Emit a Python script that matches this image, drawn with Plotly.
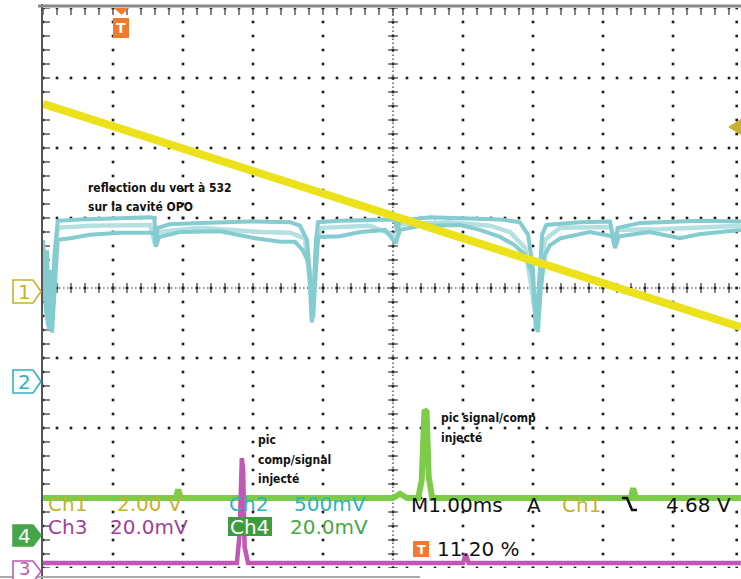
import plotly.graph_objects as go
import numpy as np

# ---------------- data (time in ms from left edge, amplitude in divisions) -------------
ch1_t = [0.0, 9.97]
ch1_v = [2.63, -0.56]

ch2a_t = [0.0, 0.03, 0.06, 0.07, 0.10, 0.13, 0.16, 0.19, 0.21, 0.53, 1.10, 1.53, 1.59, 1.61, 1.64, 1.81,
          2.24, 2.96, 3.53, 3.67, 3.77, 3.81, 3.84, 3.87, 3.90, 3.93, 4.24, 4.81, 5.03, 5.06, 5.09, 5.53,
          6.10, 6.53, 6.81, 6.93, 7.00, 7.04, 7.09, 7.13, 7.19, 7.67, 8.10, 8.14, 8.17, 8.21, 8.53, 9.39, 9.97]
ch2a_v = [0.69, -0.17, 0.54, -0.53, 0.26, -0.64, 0.40, 0.83, 0.96, 0.98, 1.00, 1.01, 1.00, 0.69, 0.86, 0.91,
          0.93, 0.95, 0.94, 0.89, 0.69, 0.26, -0.49, -0.03, 0.69, 0.94, 0.96, 0.97, 0.98, 0.80, 0.96, 1.01,
          1.00, 0.98, 0.94, 0.76, 0.26, -0.60, 0.11, 0.76, 0.90, 0.94, 0.95, 0.76, 0.61, 0.86, 0.93, 0.96, 0.95]

ch2b_t = [0.0, 0.04, 0.09, 0.11, 0.14, 0.17, 0.21, 0.39, 0.67, 1.10, 1.53, 1.59, 1.61, 1.66, 1.96, 2.53,
          3.03, 3.39, 3.60, 3.71, 3.79, 3.83, 3.86, 3.89, 3.93, 4.24, 4.53, 4.89, 5.04, 5.10, 5.39, 5.96,
          6.24, 6.53, 6.74, 6.89, 6.99, 7.04, 7.07, 7.11, 7.17, 7.24, 7.39, 7.81, 8.13, 8.17, 8.23, 8.67,
          9.10, 9.39, 9.97]
ch2b_v = [0.54, -0.31, -0.60, -0.17, -0.46, 0.11, 0.69, 0.71, 0.76, 0.79, 0.80, 0.79, 0.59, 0.73, 0.80, 0.81,
          0.71, 0.66, 0.66, 0.54, 0.37, -0.17, -0.43, 0.11, 0.73, 0.74, 0.80, 0.83, 0.64, 0.83, 0.89, 0.90,
          0.83, 0.73, 0.61, 0.47, 0.19, -0.46, -0.63, -0.03, 0.47, 0.61, 0.71, 0.80, 0.74, 0.57, 0.74, 0.80,
          0.71, 0.77, 0.83]

ch2c_t = [0.0, 0.06, 0.10, 0.13, 0.17, 0.21, 0.67, 1.53, 1.60, 1.64, 2.24, 3.10, 3.53, 3.74, 3.81, 3.84,
          3.90, 3.96, 4.67, 5.04, 5.10, 5.81, 6.39, 6.67, 6.89, 7.01, 7.06, 7.10, 7.17, 7.39, 8.11, 8.16,
          8.21, 8.81, 9.97]
ch2c_v = [0.61, -0.46, -0.17, -0.57, 0.54, 0.86, 0.89, 0.90, 0.63, 0.80, 0.86, 0.80, 0.79, 0.71, 0.11, -0.43,
          0.54, 0.86, 0.89, 0.74, 0.91, 0.94, 0.89, 0.80, 0.57, -0.17, -0.53, 0.19, 0.69, 0.86, 0.87, 0.66,
          0.83, 0.84, 0.89]

ch4_t = [0.0, 1.90, 1.93, 1.97, 5.00, 5.10, 5.20, 5.36, 5.41, 5.45, 5.48, 5.51, 5.56, 5.70, 8.40, 8.43, 8.47, 9.97]
ch4_v = [-3.00, -3.00, -2.88, -3.00, -3.00, -2.94, -3.00, -3.00, -2.75, -1.74, -1.77, -2.70, -3.00, -3.00,
         -3.00, -2.86, -3.00, -3.00]

ch3_t = [0.0, 2.77, 2.81, 2.84, 2.86, 2.88, 2.93, 6.00, 6.04, 6.08, 9.97]
ch3_v = [-3.93, -3.93, -3.50, -2.43, -2.60, -3.70, -3.93, -3.93, -3.80, -3.93, -3.93]

# ---------------- geometry helpers --------------------------------------------------------
W, H = 741, 579
L, T, B = 43, 8, 11
DIV = 70.0
XMAX = (W - L) / DIV


def px(x):
    return (x - L) / (W - L)


def py(y):
    return (H - B - y) / (H - T - B)


YEL = "#ece21c"
CYA = "#84ccd0"
GRN = "#7ccc48"
MAG = "#c257b6"
OLV = "#c6b22c"
ORG = "#f07a2e"

fig = go.Figure()

# graticule dots
gx, gy = [], []
for xv in list(range(0, 11)) + [9.91]:
    for k in range(41):
        gx.append(xv)
        gy.append(-4 + 0.2 * k)
for yv in range(-4, 5):
    for k in range(51):
        gx.append(0.2 * k)
        gy.append(yv)
fig.add_trace(go.Scatter(x=gx, y=gy, mode="markers", hoverinfo="skip",
                         marker=dict(size=2.6, color="#1a1a1a", symbol="square", line=dict(width=0))))

# centre-line ticks
tk = np.arange(0, 10.01, 0.2)
fig.add_trace(go.Scatter(x=tk, y=[0] * len(tk), mode="markers", hoverinfo="skip",
                         marker=dict(symbol="line-ns", size=7, line=dict(width=1.2, color="#333"))))
tv = np.arange(-4, 4.01, 0.2)
fig.add_trace(go.Scatter(x=[5] * len(tv), y=tv, mode="markers", hoverinfo="skip",
                         marker=dict(symbol="line-ew", size=7, line=dict(width=1.2, color="#333"))))
# border ticks
fig.add_trace(go.Scatter(x=[0.04] * len(tv), y=tv, mode="markers", hoverinfo="skip",
                         marker=dict(symbol="line-ew", size=6, line=dict(width=1.2, color="#333"))))
fig.add_trace(go.Scatter(x=tk, y=[3.96] * len(tk), mode="markers", hoverinfo="skip",
                         marker=dict(symbol="line-ns", size=6, line=dict(width=1.2, color="#333"))))

# waveforms
fig.add_trace(go.Scatter(x=ch2c_t, y=ch2c_v, mode="lines", line=dict(color="#b4e0e2", width=4.5), hoverinfo="skip"))
fig.add_trace(go.Scatter(x=ch2b_t, y=ch2b_v, mode="lines", line=dict(color=CYA, width=4), hoverinfo="skip"))
fig.add_trace(go.Scatter(x=ch2a_t, y=ch2a_v, mode="lines", line=dict(color=CYA, width=4), hoverinfo="skip"))
fig.add_trace(go.Scatter(x=ch1_t, y=ch1_v, mode="lines", line=dict(color=YEL, width=8), hoverinfo="skip"))
fig.add_trace(go.Scatter(x=ch4_t, y=ch4_v, mode="lines", line=dict(color=GRN, width=6), hoverinfo="skip"))
fig.add_trace(go.Scatter(x=ch3_t, y=ch3_v, mode="lines", line=dict(color=MAG, width=4.5), hoverinfo="skip"))

shapes = []
# centre dense dotted lines
shapes.append(dict(type="line", xref="x", yref="y", x0=0, x1=10, y0=0, y1=0,
                   line=dict(color="#333", width=1.2, dash="1.5px,2.5px"), layer="below"))
shapes.append(dict(type="line", xref="x", yref="y", x0=5, x1=5, y0=-4, y1=4,
                   line=dict(color="#333", width=1.2, dash="1.5px,2.5px"), layer="below"))
# borders
shapes.append(dict(type="line", xref="paper", yref="paper", x0=px(42), x1=px(42), y0=py(4), y1=py(579),
                   line=dict(color="#555", width=2)))
shapes.append(dict(type="line", xref="paper", yref="paper", x0=px(38), x1=px(741), y0=py(6), y1=py(6),
                   line=dict(color="#888", width=3)))
shapes.append(dict(type="line", xref="paper", yref="paper", x0=px(0), x1=px(420), y0=py(577), y1=py(577),
                   line=dict(color="#aaa", width=2)))


def pent(x0, x1, y0, y1, line_col, fill_col):
    xm = x1 - 8
    yc = (y0 + y1) / 2
    path = (f"M{px(x0)},{py(y0)} L{px(xm)},{py(y0)} L{px(x1)},{py(yc)} "
            f"L{px(xm)},{py(y1)} L{px(x0)},{py(y1)} Z")
    return dict(type="path", xref="paper", yref="paper", path=path,
                line=dict(color=line_col, width=1.6), fillcolor=fill_col)


shapes.append(pent(13, 41, 280, 303, OLV, "white"))
shapes.append(pent(13, 41, 370, 393, "#2fb3bd", "white"))
shapes.append(pent(13, 41, 525, 546, "#46a548", "#46a548"))
shapes.append(pent(13, 41, 561, 582, MAG, "white"))

# trigger position marker (top)
shapes.append(dict(type="path", xref="paper", yref="paper",
                   path=f"M{px(114)},{py(8)} L{px(129)},{py(8)} L{px(121.5)},{py(15)} Z",
                   fillcolor=ORG, line=dict(width=0)))
shapes.append(dict(type="rect", xref="paper", yref="paper", x0=px(113), x1=px(129), y0=py(18), y1=py(38),
                   fillcolor=ORG, line=dict(width=0)))
# trigger level arrow (right)
shapes.append(dict(type="path", xref="paper", yref="paper",
                   path=f"M{px(728)},{py(127)} L{px(741)},{py(119)} L{px(741)},{py(135)} Z",
                   fillcolor=OLV, line=dict(width=0)))
# Ch4 label box, T box
shapes.append(dict(type="rect", xref="paper", yref="paper", x0=px(228), x1=px(272), y0=py(517), y1=py(536),
                   fillcolor="#3d9c40", line=dict(width=0)))
shapes.append(dict(type="rect", xref="paper", yref="paper", x0=px(413), x1=px(429), y0=py(541), y1=py(557),
                   fillcolor=ORG, line=dict(width=0)))
# falling slope symbol
shapes.append(dict(type="path", xref="paper", yref="paper",
                   path=(f"M{px(622)},{py(498)} L{px(627)},{py(498)} L{px(632)},{py(510)} "
                         f"L{px(637)},{py(510)}"),
                   line=dict(color="#111", width=2.6)))

ann = []


def txt(x, y, s, size, color, family="DejaVu Sans", weight="normal", anchor="left"):
    ann.append(dict(xref="paper", yref="paper", x=px(x), y=py(y), text=s, showarrow=False,
                    xanchor=anchor, yanchor="middle", borderpad=0,
                    font=dict(size=size, color=color, family=family, weight=weight)))


NOTE = "DejaVu Sans Condensed, Liberation Sans Narrow, DejaVu Sans"
txt(87, 188, "reflection du vert à 532", 12, "#111", NOTE, "bold")
txt(87, 207, "sur la cavité OPO", 12, "#111", NOTE, "bold")
txt(257, 440, "pic", 12, "#111", NOTE, "bold")
txt(257, 460, "comp/signal", 12, "#111", NOTE, "bold")
txt(257, 479, "injecté", 12, "#111", NOTE, "bold")
txt(440, 418, "pic signal/comp", 12, "#111", NOTE, "bold")
txt(440, 438, "injecté", 12, "#111", NOTE, "bold")

F = 20
txt(47, 504, "Ch1", F, OLV)
txt(116, 504, "2.00 V", F, OLV)
txt(228, 504, "Ch2", F, "#2fb3bd")
txt(293, 504, "500mV", F, "#2fb3bd")
txt(410, 505, "M1.00ms", F, "#111")
txt(526, 505, "A", F, "#111")
txt(561, 505, "Ch1", F, OLV)
txt(665, 505, "4.68 V", F, "#111")
txt(47, 527, "Ch3", F, "#a0409c")
txt(109, 527, "20.0mV", F, "#a0409c")
txt(229, 527, "Ch4", F, "white")
txt(289, 527, "20.0mV", F, "#45a845")
txt(436, 549, "11.20 %", F, "#111")
txt(421, 549, "T", 13, "white", "DejaVu Sans", "bold", "center")
txt(121, 28, "T", 14, "white", "DejaVu Sans", "bold", "center")
txt(24, 291.5, "1", F, OLV, anchor="center")
txt(24, 381.5, "2", F, "#2fb3bd", anchor="center")
txt(24, 535.5, "4", F, "white", anchor="center")
txt(24, 568, "3", 18, MAG, anchor="center")

fig.update_layout(
    width=W, height=H,
    margin=dict(l=L, r=0, t=T, b=B, pad=0),
    paper_bgcolor="white", plot_bgcolor="white",
    showlegend=False,
    xaxis=dict(range=[0, XMAX], visible=False, fixedrange=True),
    yaxis=dict(range=[-4, 4], visible=False, fixedrange=True),
    shapes=shapes, annotations=ann,
)

fig.write_html("out.html", config={"displayModeBar": False},
               post_script="document.body.style.margin='0';document.body.style.overflow='hidden';")
